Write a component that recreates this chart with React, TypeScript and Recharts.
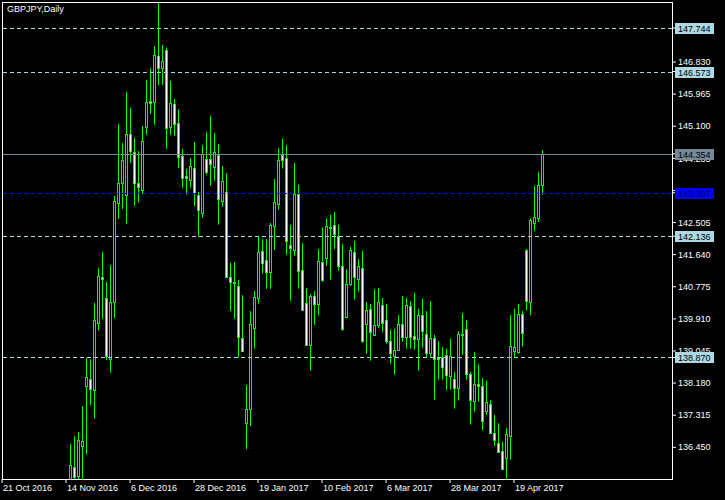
import React from "react";
import { Bar, ComposedChart, ReferenceLine, XAxis, YAxis } from "recharts";

const WIDTH = 725;
const HEIGHT = 500;
const Y_AXIS_WIDTH = 53;
const LIME = "#00ff00";
const FONT = "'Liberation Sans', Arial, sans-serif";

// bar index of the first candle that shows in the window (earlier ones sit below it)
const FIRST_BAR = 17;
const BARS_PER_LABEL = 16;

const dateLabels = [
  "21 Oct 2016",
  "14 Nov 2016",
  "6 Dec 2016",
  "28 Dec 2016",
  "19 Jan 2017",
  "10 Feb 2017",
  "6 Mar 2017",
  "28 Mar 2017",
  "19 Apr 2017",
];

const priceTicks = [
  136.45, 137.315, 138.18, 139.045, 139.91, 140.775, 141.64, 142.505, 143.37,
  144.235, 145.1, 145.965, 146.83,
];

const opens = [
  135.4, 135.93, 135.69, 136.49, 138.1, 138.28, 137.99, 139.81, 141.03, 140.46,
  138.82, 140.36, 143.04, 143.58, 143.26, 144.89, 144.41, 143.57, 143.38, 145.09,
  145.78, 145.76, 146.99, 146.68, 147.15, 145.09, 145.69, 145.18, 144.31, 143.76,
  143.64, 143.97, 143.24, 142.75, 144.21, 144.21, 143.99, 144.32, 143.09, 143.32,
  141.04, 140.91, 140.8, 139.39, 137.11, 137.49, 139.67, 140.48, 141.73, 141.49,
  141.18, 142.4, 143.01, 144.32, 144.24, 141.9, 141.77, 143.27, 141.23, 140.35,
  139.21, 140.53, 140.32, 141.43, 141.56, 142.39, 142.43, 142.13, 141.33, 139.97,
  140.86, 141.7, 140.99, 141.27, 139.78, 140.17, 139.48, 139.75, 140.28, 139.89,
  139.32, 138.92, 139.08, 139.78, 139.43, 140.26, 139.44, 139.38, 140.01, 139.51,
  139.0, 139.39, 138.87, 138.87, 138.93, 138.36, 138.28, 138.04, 139.5, 139.63,
  138.42, 137.69, 138.15, 138.09, 137.44, 137.61, 136.84, 136.57, 136.36, 136.17,
  136.75, 139.04, 139.03, 140.04, 141.77, 140.37, 142.5, 142.64, 143.51,
];

const highs = [
  136.54, 136.75, 136.86, 137.56, 138.86, 138.82, 140.34, 141.29, 141.71, 140.9,
  141.36, 143.22, 145.16, 144.65, 146.02, 145.6, 144.79, 144.43, 145.11, 146.35,
  146.66, 147.26, 148.44, 147.29, 147.22, 146.32, 145.83, 145.56, 144.49, 143.95,
  144.24, 144.68, 143.33, 144.59, 144.94, 145.38, 144.92, 144.62, 144.03, 143.84,
  141.42, 141.44, 140.96, 140.55, 138.13, 140.12, 140.66, 142.14, 142.06, 142.06,
  142.49, 143.68, 144.51, 144.76, 144.59, 142.44, 144.11, 143.52, 141.95, 140.74,
  140.58, 140.66, 141.79, 142.37, 142.61, 142.71, 142.79, 142.44, 141.93, 141.25,
  141.85, 142.01, 141.52, 141.74, 140.36, 140.31, 140.71, 140.74, 140.47, 140.31,
  139.61, 139.64, 140.01, 140.53, 140.47, 140.39, 140.61, 140.18, 140.45, 140.12,
  140.39, 139.48, 139.31, 139.15, 139.1, 139.37, 138.48, 139.58, 140.07, 139.88,
  138.48, 139.02, 138.69, 138.32, 138.24, 137.72, 137.32, 137.1, 136.6, 136.97,
  140.01, 140.18, 140.31, 140.12, 141.79, 142.62, 143.49, 143.87, 144.46,
];

const lows = [
  135.2, 135.45, 135.45, 135.45, 136.26, 137.59, 137.22, 139.59, 139.91, 138.8,
  138.46, 139.94, 142.6, 142.87, 142.47, 144.11, 142.96, 143.04, 143.27, 144.87,
  145.43, 145.14, 146.21, 146.21, 144.49, 144.87, 144.84, 143.97, 143.44, 143.26,
  143.44, 142.95, 142.12, 142.64, 143.79, 143.5, 143.63, 142.45, 142.93, 141.02,
  140.12, 139.91, 138.87, 139.02, 136.4, 137.02, 139.11, 140.32, 141.13, 140.72,
  140.72, 141.77, 142.85, 143.96, 141.64, 140.4, 141.61, 140.72, 140.14, 139.19,
  138.51, 139.75, 140.0, 140.91, 141.34, 140.97, 141.79, 141.21, 139.59, 139.95,
  140.8, 140.43, 140.64, 139.27, 138.97, 138.78, 139.45, 139.67, 139.56, 139.24,
  138.7, 138.41, 139.05, 139.3, 139.11, 139.11, 139.08, 138.51, 139.13, 138.86,
  138.89, 137.73, 138.27, 138.27, 138.0, 138.0, 137.49, 137.71, 138.94, 138.27,
  137.06, 137.41, 137.68, 136.92, 137.33, 136.82, 136.49, 136.3, 135.86, 135.6,
  136.12, 138.89, 138.97, 139.16, 140.15, 140.01, 142.28, 142.52, 143.25,
];

const closes = [
  135.97, 135.66, 136.65, 136.62, 138.34, 138.03, 139.88, 141.06, 140.98, 138.92,
  140.37, 143.09, 143.57, 144.19, 144.89, 144.44, 143.58, 143.45, 144.7, 145.75,
  145.73, 147.02, 146.68, 146.86, 145.06, 145.72, 145.15, 144.28, 143.71, 143.71,
  144.03, 143.31, 142.84, 144.35, 143.86, 144.07, 144.4, 143.15, 143.62, 141.05,
  140.91, 140.88, 139.43, 139.05, 137.48, 139.77, 140.5, 141.7, 141.42, 141.18,
  142.43, 143.05, 144.18, 144.2, 142.0, 141.81, 143.27, 141.21, 140.16, 139.21,
  140.53, 140.32, 141.46, 140.97, 142.41, 142.37, 142.19, 141.34, 139.65, 140.84,
  141.77, 141.05, 141.34, 139.32, 140.15, 139.56, 139.74, 140.36, 139.81, 139.32,
  139.0, 139.08, 139.78, 139.43, 140.28, 139.43, 139.38, 140.01, 139.59, 139.0,
  139.39, 138.82, 138.82, 138.61, 138.41, 138.9, 138.04, 139.49, 139.47, 138.42,
  137.72, 138.15, 138.11, 137.17, 137.66, 136.84, 136.65, 136.33, 135.87, 136.81,
  139.17, 139.14, 140.04, 139.52, 140.4, 142.57, 142.65, 143.52, 144.354,
];

// horizontal levels drawn on the chart
const lineLevels = [147.744, 146.573, 142.136, 138.87];
const alertLevel = 143.307;
const bidPrice = 144.354;

const PRICE_MIN = 135.596;
const PRICE_MAX = 148.446;

const bars = opens.map((o, k) => ({
  i: FIRST_BAR + k,
  o,
  h: highs[k],
  l: lows[k],
  c: closes[k],
}));

const dateTicks = dateLabels.map((_, k) => k * BARS_PER_LABEL);
const tagPrices = [...lineLevels, alertLevel, bidPrice];
// tags come after the plain ticks so they are painted on top of them
const scaleTicks = [...priceTicks, ...tagPrices];

function tagColours(value: number) {
  if (value === bidPrice) return { bg: "#778899", fg: "#000" };
  if (value === alertLevel) return { bg: "#0000ff", fg: "#000048" };
  return { bg: "#add8e6", fg: "#000" };
}

function Candle(props: any) {
  const { x, y, width, height, payload } = props;
  const { o, h, l, c } = payload;
  const k = height / (h - l);
  const py = (p: number) => y + (h - p) * k;
  const col = Math.round(x + width / 2);
  const top = Math.round(py(Math.max(o, c)));
  const bot = Math.round(py(Math.min(o, c)));
  return (
    <g>
      <line
        x1={col + 0.5}
        x2={col + 0.5}
        y1={y}
        y2={y + height}
        stroke={LIME}
        strokeWidth={1}
      />
      <rect
        x={col - 0.5}
        y={top + 0.5}
        width={2}
        height={Math.max(bot - top, 0)}
        fill={c >= o ? "#000" : "#fff"}
        stroke={LIME}
        strokeWidth={1}
      />
    </g>
  );
}

// crisp 1px horizontal level line
function LevelLine(props: any) {
  const { x1, x2, y1, stroke, strokeDasharray } = props;
  const row = Math.round(y1) + 0.5;
  return (
    <line
      x1={x1}
      x2={x2}
      y1={row}
      y2={row}
      stroke={stroke}
      strokeDasharray={strokeDasharray}
      strokeWidth={1}
    />
  );
}

function DateTick(props: any) {
  const { x, y, payload } = props;
  const label = dateLabels[Math.round(payload.value / BARS_PER_LABEL)];
  return (
    <text
      x={x + 1}
      y={y}
      dy="0.71em"
      fill="#fff"
      fontSize={9}
      fontFamily={FONT}
      textAnchor="start"
    >
      {label}
    </text>
  );
}

// plain price labels, or a coloured tag for the marked levels
function ScaleTick(props: any) {
  const { x, y, payload } = props;
  const value = Number(payload.value);
  if (!tagPrices.includes(value)) {
    return (
      <text
        x={x}
        y={y}
        dy={3.2}
        fill="#fff"
        fontSize={9}
        fontFamily={FONT}
        textAnchor="start"
      >
        {value.toFixed(3)}
      </text>
    );
  }
  const { bg, fg } = tagColours(value);
  const row = Math.round(y);
  const left = x - 3;
  return (
    <g>
      <rect x={left} y={row - 5} width={39} height={11} fill={bg} />
      <text
        x={left + 3}
        y={row + 4}
        fill={fg}
        fontSize={9}
        fontFamily={FONT}
        textAnchor="start"
      >
        {value.toFixed(3)}
      </text>
    </g>
  );
}

export default function App() {
  return (
    <div
      style={{
        position: "fixed",
        left: 0,
        top: 0,
        width: WIDTH,
        height: HEIGHT,
        background: "#000",
        overflow: "hidden",
      }}
    >
      <ComposedChart
        width={WIDTH}
        height={HEIGHT}
        data={bars}
        margin={{ top: 2, right: 0, bottom: 0, left: 2 }}
      >
        <XAxis
          type="number"
          dataKey="i"
          domain={[0, 167.5]}
          allowDataOverflow
          ticks={dateTicks}
          interval={0}
          height={21}
          axisLine={false}
          tickLine={{ stroke: "#fff" }}
          tickSize={4}
          tick={<DateTick />}
        />
        <YAxis
          orientation="right"
          type="number"
          domain={[PRICE_MIN, PRICE_MAX]}
          allowDataOverflow
          ticks={scaleTicks}
          interval={0}
          width={Y_AXIS_WIDTH}
          axisLine={false}
          tickLine={{ stroke: "#fff" }}
          tickSize={4}
          tick={<ScaleTick />}
        />
        <Bar
          dataKey={(d: any) => [d.l, d.h]}
          barSize={3}
          shape={(p: any) => <Candle {...p} />}
          isAnimationActive={false}
        />
        {lineLevels.map((v) => (
          <ReferenceLine
            key={v}
            y={v}
            stroke="#add8e6"
            strokeDasharray="4 3"
            shape={(p: any) => <LevelLine {...p} />}
          />
        ))}
        <ReferenceLine
          y={alertLevel}
          stroke="#0000ff"
          strokeDasharray="4 3"
          shape={(p: any) => <LevelLine {...p} />}
        />
        <ReferenceLine
          y={bidPrice}
          stroke="#778899"
          shape={(p: any) => <LevelLine {...p} />}
        />
      </ComposedChart>
      <div
        style={{
          position: "absolute",
          left: 2,
          top: 2,
          width: 671,
          height: 478,
          boxSizing: "border-box",
          border: "1px solid #fff",
          pointerEvents: "none",
        }}
      />
      <div
        style={{
          position: "absolute",
          left: 2,
          top: 4,
          paddingLeft: 5,
          fontSize: 9,
          lineHeight: "11px",
          color: "#fff",
          fontFamily: FONT,
          whiteSpace: "nowrap",
        }}
      >
        GBPJPY,Daily
      </div>
    </div>
  );
}
